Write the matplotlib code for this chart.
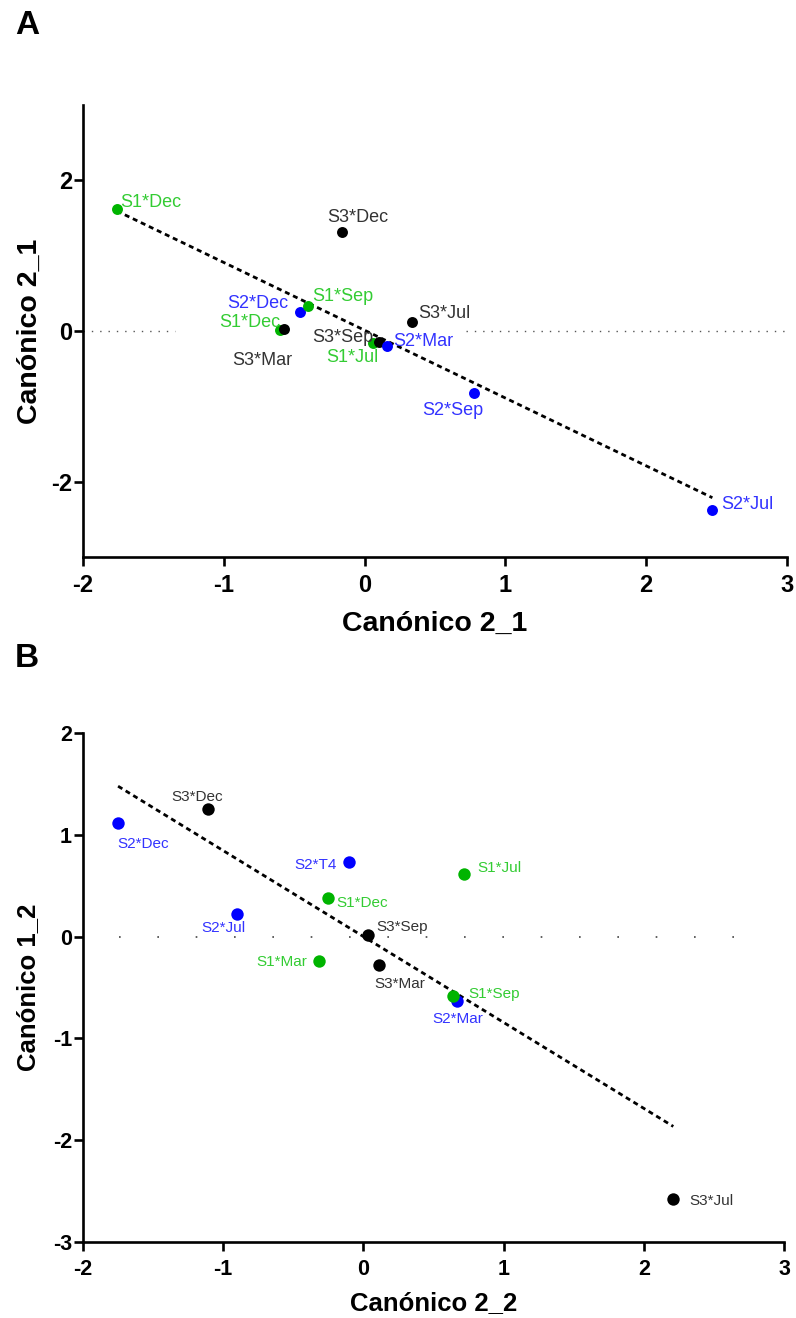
import numpy as np
import matplotlib.pyplot as plt

plt.rcParams['font.family'] = ['Liberation Sans', 'DejaVu Sans']
plt.rcParams['axes.unicode_minus'] = False

# panel A data
a_labels = ['S1*Dec', 'S3*Dec', 'S2*Dec', 'S1*Sep', 'S1*Dec', 'S3*Mar', 'S3*Jul',
            'S1*Jul', 'S3*Sep', 'S2*Mar', 'S2*Sep', 'S2*Jul']
a_x = [-1.76, -0.16, -0.46, -0.40, -0.60, -0.57, 0.34, 0.06, 0.10, 0.16, 0.78, 2.47]
a_y = [1.62, 1.31, 0.25, 0.33, 0.01, 0.03, 0.12, -0.16, -0.15, -0.20, -0.82, -2.37]
a_fit = (-0.90, 0.01)  # slope, intercept

# panel B data
b_labels = ['S3*Dec', 'S2*Dec', 'S2*T4', 'S1*Dec', 'S2*Jul', 'S3*Sep', 'S1*Mar',
            'S3*Mar', 'S1*Jul', 'S2*Mar', 'S1*Sep', 'S3*Jul']
b_x = [-1.11, -1.75, -0.10, -0.25, -0.90, 0.03, -0.32, 0.11, 0.72, 0.67, 0.64, 2.21]
b_y = [1.25, 1.12, 0.73, 0.38, 0.22, 0.02, -0.24, -0.28, 0.61, -0.63, -0.58, -2.58]
b_fit = (-0.844, 0.0)

# label placement (offset in px from point, ha, va)
a_pos = [(3, 2, 'left', 'baseline'), (16, 10, 'center', 'baseline'),
         (-12, 4, 'right', 'baseline'), (4, 5, 'left', 'baseline'),
         (0, 3, 'right', 'baseline'), (-22, -23, 'center', 'top'),
         (6, 4, 'left', 'baseline'), (-21, -6, 'center', 'top'),
         (-5, 0, 'right', 'baseline'), (6, 0, 'left', 'baseline'),
         (-22, -9, 'center', 'top'), (9, 1, 'left', 'baseline')]
b_pos = [(-11, 8, 'center', 'baseline'), (-1, -14, 'left', 'top'),
         (-13, -1, 'right', 'center_baseline'), (8, -4, 'left', 'center_baseline'),
         (-14, -7, 'center', 'top'), (9, 4, 'left', 'baseline'),
         (-11, 0, 'right', 'center_baseline'), (21, -12, 'center', 'top'),
         (13, 8, 'left', 'center_baseline'), (0, -11, 'center', 'top'),
         (15, 3, 'left', 'center_baseline'), (16, 0, 'left', 'center_baseline')]

dot_col = {'S1': '#00b400', 'S2': '#0000ff', 'S3': '#000000'}
txt_col = {'S1': '#33cc33', 'S2': '#3333ff', 'S3': '#333333'}


def panel(ax, labels, xs, ys, fit, pos, ms, fs, tickfs):
    x_line = np.array([min(xs), max(xs)])
    ax.plot(x_line, fit[0] * x_line + fit[1], color='black', lw=2,
            linestyle=(0, (1.8, 1.4)), zorder=2)
    for lab, x, y, p in zip(labels, xs, ys, pos):
        g = lab[:2]
        ax.scatter(x, y, s=ms, color=dot_col[g], zorder=3, linewidths=0)
        ax.annotate(lab, (x, y), xytext=(p[0] * 0.72, p[1] * 0.72),
                    textcoords='offset points', ha=p[2], va=p[3],
                    color=txt_col[g], fontsize=fs, zorder=4)
    for s in ['top', 'right']:
        ax.spines[s].set_visible(False)
    for s in ['left', 'bottom']:
        ax.spines[s].set_linewidth(1.9)
    ax.tick_params(length=6.5, width=1.9, labelsize=tickfs, color='black')
    ax.tick_params(axis='x', pad=6)
    ax.tick_params(axis='y', pad=1.5)
    for t in ax.get_xticklabels() + ax.get_yticklabels():
        t.set_fontweight('bold')


fig = plt.figure(figsize=(7.96, 13.18), dpi=100)

axA = fig.add_axes([0.1043, 0.5774, 0.8844, 0.3429])
axA.set_xlim(-2, 3)
axA.set_ylim(-3, 3)
axA.set_xticks([-2, -1, 0, 1, 2, 3])
axA.set_yticks([-2, 0, 2])
axA.hlines(0, -2, -1.35, color='#555555', lw=1, linestyle=(0, (1, 5)), zorder=1)
axA.hlines(0, 0.72, 3, color='#555555', lw=1, linestyle=(0, (1, 5)), zorder=1)
panel(axA, a_labels, a_x, a_y, a_fit, a_pos, 62, 13, 17)
axA.set_xlabel('Canónico 2_1', fontsize=20.5, fontweight='bold', labelpad=10)
axA.set_ylabel('Canónico 2_1', fontsize=20.5, fontweight='bold', labelpad=6)

axB = fig.add_axes([0.1043, 0.0577, 0.8807, 0.3862])
axB.set_xlim(-2, 3)
axB.set_ylim(-3, 2)
axB.set_xticks([-2, -1, 0, 1, 2, 3])
axB.set_yticks([-3, -2, -1, 0, 1, 2])
axB.hlines(0, -1.74, 2.76, color='#444444', lw=1.2, linestyle=(0, (1, 22)), zorder=1)
panel(axB, b_labels, b_x, b_y, b_fit, b_pos, 80, 11, 15.5)
axB.set_xlabel('Canónico 2_2', fontsize=18.5, fontweight='bold', labelpad=8)
axB.set_ylabel('Canónico 1_2', fontsize=18.5, fontweight='bold', labelpad=9)

fig.text(15 / 796, 1 - 10 / 1318, 'A', fontsize=24, fontweight='bold', va='top')
fig.text(15 / 796, 1 - 643 / 1318, 'B', fontsize=24, fontweight='bold', va='top')

fig.savefig('out.png', dpi=100)
